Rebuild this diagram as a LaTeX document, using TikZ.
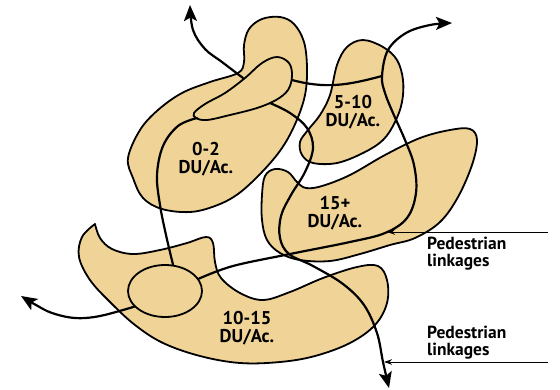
\documentclass[tikz,border=0pt]{standalone}
\usepackage{fontspec}
\setmainfont{PT Sans}
\usetikzlibrary{arrows.meta,shapes.geometric}
\definecolor{zonetan}{RGB}{240,211,150}
\tikzset{
  % zoner
  zone/.style={fill=zonetan,draw=black,line width=1.8pt,line join=round},
  zl/.style={font=\bfseries\fontsize{18.5}{18.5}\selectfont,align=center,inner sep=0pt},
  % stråk
  link/.style={draw=black,line width=2.2pt,line cap=round},
  linkend/.style={link,-{Stealth[length=16pt,width=13pt,inset=3.5pt]}},
  ped/.style={draw=black,line width=0.9pt,-{Stealth[length=8pt,width=5.5pt]}},
  pl/.style={font=\bfseries\fontsize{17.5}{17}\selectfont,align=left,anchor=north west,inner sep=0pt},
}
\begin{document}
\begin{tikzpicture}[x=1pt,y=-1pt]
  \useasboundingbox (0,0) rectangle (560,389);
  % zoner
  \draw[zone] plot[smooth cycle,tension=0.6] coordinates {(128,158) (133,178) (143,198) (162,209)
    (190,212) (215,206) (238,194) (262,172) (282,148) (296,122) (305,95) (307,68) (304,42)
    (294,24) (280,17) (262,19) (249,29) (244,45) (244,62) (238,73) (210,82) (182,93) (158,110) (140,130)};
  \draw[zone] plot[smooth cycle,tension=0.6] coordinates {(363,40) (383,47) (397,60) (403,80)
    (402,102) (395,122) (383,140) (363,153) (337,163) (313,163) (302,155) (300,142) (308,130)
    (320,115) (330,95) (337,65) (347,47)};
  \draw[zone] plot[smooth cycle,tension=0.6] coordinates {(297,182) (288,172) (275,169) (265,176)
    (262,195) (262,220) (267,240) (280,253) (300,260) (330,261) (360,254) (390,245) (415,238)
    (440,222) (458,197) (472,165) (477,140) (470,129) (450,130) (420,138) (385,155) (350,175)
    (322,186) (306,188)};
  \draw[zone] plot[smooth,tension=0.6] coordinates {(95,224) (100,238) (112,249) (133,254) (160,250)
    (187,243) (206,237) (213,243) (215,262) (221,278) (240,293) (263,300) (290,292) (323,278)
    (357,267) (378,266) (387,280) (387,303) (375,325) (350,343) (315,356) (280,362) (240,363)
    (200,356) (163,343) (135,325) (110,302) (90,280) (79,257) (82,237) (95,224)} -- cycle;
  \draw[zone] plot[smooth cycle,tension=0.6] coordinates {(194,113) (205,104) (225,93) (245,78)
    (262,63) (277,57) (289,63) (292,76) (288,90) (276,100) (257,108) (230,115) (207,120) (196,118)};
  \node[zone,ellipse,minimum width=74pt,minimum height=52pt,inner sep=0pt] (hub) at (165,291) {};
  % ändpunkter
  \coordinate (beanN) at (243,78);
  \coordinate (beanE) at (292,80);
  \coordinate (beanSE) at (270,103);
  \coordinate (beanSW) at (197,118);
  \coordinate (jct) at (382,76);
  \coordinate (tipN) at (190,5);
  \coordinate (tipNE) at (452,23);
  \coordinate (tipW) at (21,296);
  \coordinate (tipS) at (389,388);
  % stråk
  \draw[linkend] plot[smooth,tension=0.6] coordinates {(beanN) (222,62) (205,49) (193,30) (tipN)};
  \draw[link] (beanE) to[out=-15,in=195] (jct);
  \draw[link] plot[smooth,tension=0.6] coordinates {(beanSW) (178,126) (163,146) (157,175)
    (160,205) (166,235) (hub.73)};
  \draw[linkend] plot[smooth,tension=0.6] coordinates {(hub.207) (100,316) (75,318) (52,313)
    (36,305) (tipW)};
  \draw[linkend] plot[smooth,tension=0.6] coordinates {(hub.20) (233,266) (290,254) (350,242)
    (385,233) (407,218) (416,193) (414,165) (405,140) (393,113) (385,93) (jct) (388,50)
    (406,33) (430,25) (tipNE)};
  \draw[linkend] plot[smooth,tension=0.6] coordinates {(beanSE) (290,113) (307,128) (313,148)
    (305,172) (291,195) (281,216) (280,238) (289,254) (313,266) (343,284) (364,305) (377,333)
    (383,362) (tipS)};
  % etiketter
  \node[zl] (z02) at (206,159) {0-2\\DU/Ac.};
  \node[zl] (z510) at (353,112) {5-10\\DU/Ac.};
  \node[zl] (z15) at (335,213) {15+\\DU/Ac.};
  \node[zl] (z1015) at (247,328) {10-15\\DU/Ac.};
  % gångstråk
  \coordinate (ped1) at (548,232);
  \coordinate (walk1) at (387,232);
  \coordinate (ped2) at (548,362);
  \coordinate (walk2) at (384,362);
  \draw[ped] (ped1) -- (walk1);
  \draw[ped] (ped2) -- (walk2);
  \node[pl] (pl1) at (427,237) {Pedestrian\\linkages};
  \node[pl] (pl2) at (427,326) {Pedestrian\\linkages};
\end{tikzpicture}
\end{document}
